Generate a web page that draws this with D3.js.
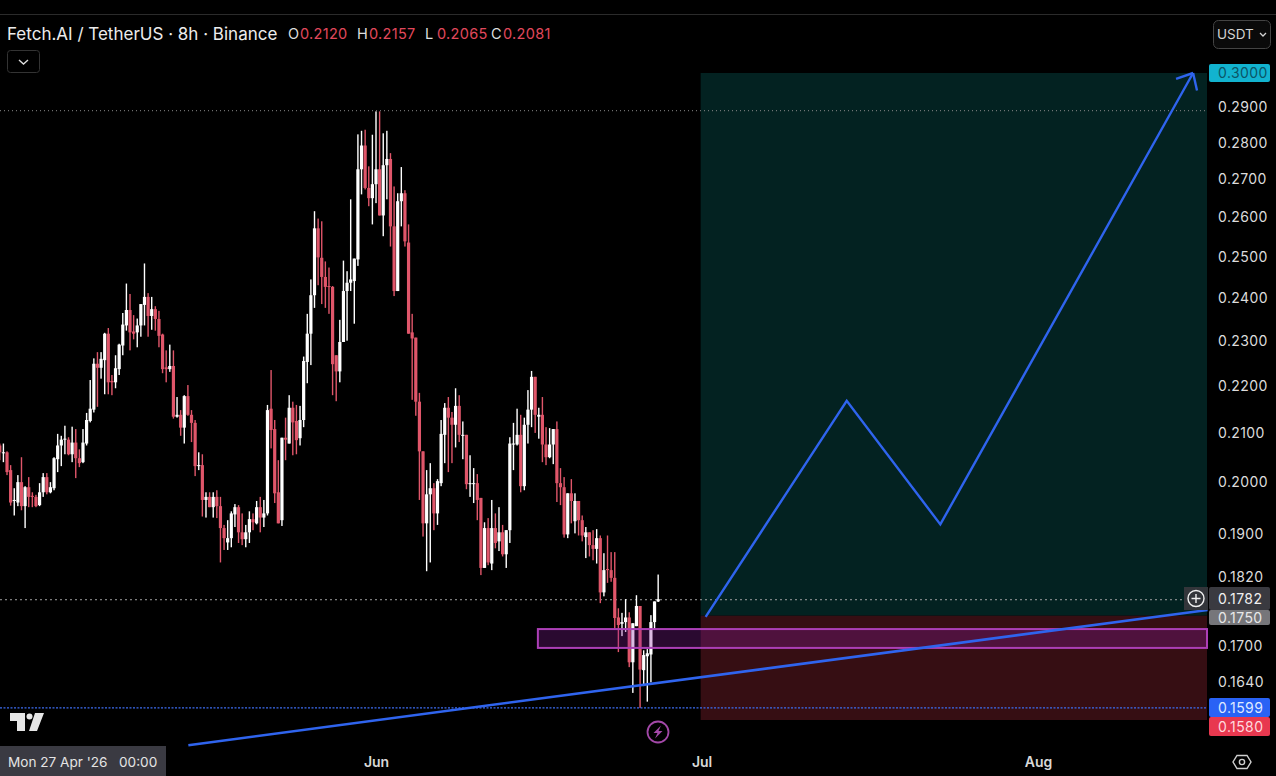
<!DOCTYPE html>
<html>
<head>
<meta charset="utf-8">
<script src="https://cdn.jsdelivr.net/npm/d3@7"></script>
<style>
  html, body { margin: 0; padding: 0; background: #000; overflow: hidden; }
  text { font-family: Inter, "Open Sans", sans-serif; }
</style>
</head>
<body>
<svg id="chart" width="1276" height="776"></svg>
<script>
// FET/USDT 8h candles
const opens = [.2074,.2058,.2060,.2024,.1963,.1960,.2000,.1953,.1990,.1973,.1971,.1955,.1980,.2010,.1980,.1988,.2046,.2074,.2086,.2086,.2056,.2080,.2048,.2040,.2078,.2125,.2149,.2249,.2240,.2257,.2317,.2211,.2208,.2237,.2290,.2336,.2372,.2322,.2320,.2336,.2384,.2403,.2358,.2374,.2351,.2315,.2241,.2237,.2244,.2134,.2138,.2111,.2178,.2138,.2121,.2032,.2034,.1965,.1971,.1951,.1971,.1953,.1911,.1884,.1892,.1937,.1951,.1903,.1890,.1903,.1928,.1920,.1951,.1931,.1939,.2151,.2108,.1980,.1926,.2090,.2078,.2153,.2125,.2089,.2127,.2253,.2317,.2407,.2572,.2498,.2451,.2429,.2427,.2268,.2232,.2298,.2417,.2437,.2441,.2494,.2727,.2792,.2677,.2650,.2687,.2727,.2605,.2738,.2755,.2577,.2417,.2642,.2663,.2536,.2320,.2308,.2166,.2062,.1920,.1976,.1988,.1939,.1998,.2096,.2153,.2132,.2117,.2157,.2094,.2096,.1996,.1996,.1998,.1969,.1837,.1911,.1845,.1911,.1886,.1903,.1862,.1907,.2076,.2076,.2096,.1992,.2117,.2149,.2220,.2134,.2138,.2076,.2050,.2076,.2108,.1998,.1990,.1899,.1978,.1924,.1963,.1926,.1894,.1903,.1879,.1872,.1892,.1793,.1835,.1833,.1819,.1749,.1738,.1741,.1749,.1673,.1734,.1769,.1660,.1683,.1686,.1741,.1777];
const highs = [.2078,.2078,.2062,.2034,.1988,.2014,.2050,.1992,.2010,.1980,.1975,.1998,.2018,.2018,.2000,.2050,.2098,.2094,.2115,.2091,.2113,.2108,.2066,.2108,.2142,.2213,.2261,.2275,.2275,.2319,.2330,.2224,.2268,.2294,.2365,.2435,.2410,.2360,.2352,.2386,.2484,.2412,.2403,.2381,.2370,.2317,.2279,.2292,.2279,.2176,.2148,.2180,.2202,.2148,.2127,.2060,.2056,.1980,.1980,.1980,.1984,.1971,.1917,.1926,.1943,.1957,.1955,.1939,.1917,.1943,.1939,.1963,.1971,.1965,.2159,.2235,.2127,.2044,.2090,.2132,.2180,.2166,.2159,.2157,.2265,.2363,.2445,.2616,.2597,.2590,.2489,.2474,.2429,.2268,.2349,.2491,.2465,.2647,.2496,.2823,.2833,.2836,.2735,.2822,.2888,.2888,.2826,.2833,.2771,.2681,.2663,.2733,.2671,.2582,.2363,.2308,.2185,.2062,.2024,.2038,.1998,.2006,.2127,.2163,.2176,.2144,.2195,.2180,.2124,.2096,.2054,.2028,.2016,.1969,.1922,.1930,.1965,.1939,.1951,.1917,.1907,.2091,.2121,.2151,.2138,.2132,.2191,.2233,.2220,.2153,.2176,.2112,.2110,.2108,.2124,.2028,.2010,.1978,.2006,.1978,.1963,.1935,.1913,.1903,.1907,.1909,.1897,.1864,.1897,.1866,.1866,.1765,.1757,.1781,.1758,.1739,.1788,.1769,.1693,.1695,.1753,.1777,.1825];
const lows = [.2044,.2040,.2014,.1954,.1935,.1953,.1945,.1911,.1951,.1951,.1951,.1953,.1971,.1976,.1978,.1984,.2020,.2032,.2056,.2054,.2040,.2008,.2030,.2038,.2074,.2122,.2143,.2155,.2216,.2182,.2182,.2180,.2195,.2224,.2268,.2324,.2279,.2304,.2286,.2310,.2336,.2310,.2326,.2324,.2286,.2228,.2208,.2231,.2130,.2132,.2094,.2078,.2136,.2081,.2012,.2024,.1933,.1931,.1951,.1931,.1930,.1847,.1870,.1870,.1875,.1913,.1883,.1879,.1875,.1883,.1907,.1918,.1903,.1913,.1935,.2068,.1959,.1920,.1915,.2044,.2078,.2054,.2056,.2074,.2112,.2206,.2246,.2377,.2431,.2386,.2377,.2363,.2180,.2167,.2208,.2298,.2301,.2417,.2340,.2478,.2660,.2673,.2629,.2582,.2637,.2605,.2552,.2647,.2526,.2405,.2417,.2577,.2526,.2317,.2170,.2136,.1965,.1895,.1831,.1847,.1907,.1917,.1992,.2038,.2020,.2038,.2070,.2081,.2046,.1986,.1971,.1959,.1926,.1824,.1837,.1842,.1833,.1873,.1868,.1858,.1837,.1883,.2024,.2074,.1980,.1984,.2078,.2112,.2100,.2088,.2040,.2034,.2048,.2036,.1961,.1955,.1893,.1892,.1920,.1901,.1897,.1886,.1855,.1858,.1851,.1845,.1774,.1786,.1810,.1812,.1730,.1690,.1717,.1724,.1665,.1623,.1734,.1599,.1634,.1609,.1640,.1729,.1776];
const closes = [.2060,.2060,.2020,.1960,.1965,.2000,.1953,.1990,.1971,.1971,.1953,.1980,.2010,.1980,.1990,.2048,.2074,.2086,.2088,.2056,.2080,.2048,.2038,.2080,.2127,.2151,.2249,.2240,.2260,.2317,.2208,.2208,.2239,.2292,.2338,.2372,.2320,.2317,.2336,.2386,.2403,.2358,.2374,.2351,.2312,.2237,.2237,.2244,.2134,.2138,.2111,.2178,.2138,.2121,.2032,.2034,.1965,.1971,.1951,.1971,.1953,.1911,.1892,.1892,.1939,.1951,.1903,.1890,.1903,.1928,.1922,.1951,.1931,.1939,.2148,.2106,.1978,.1920,.2090,.2086,.2153,.2122,.2085,.2127,.2255,.2317,.2407,.2572,.2499,.2451,.2427,.2427,.2248,.2232,.2298,.2417,.2437,.2445,.2496,.2727,.2792,.2677,.2650,.2687,.2727,.2605,.2738,.2755,.2577,.2417,.2642,.2663,.2539,.2317,.2306,.2166,.2062,.1920,.1976,.1988,.1939,.2002,.2098,.2153,.2132,.2117,.2157,.2096,.2096,.1996,.1998,.1998,.1965,.1837,.1911,.1847,.1911,.1883,.1903,.1862,.1907,.2078,.2078,.2096,.1992,.2117,.2149,.2220,.2138,.2138,.2076,.2050,.2076,.2108,.1998,.1990,.1899,.1978,.1963,.1963,.1926,.1897,.1903,.1879,.1872,.1892,.1793,.1833,.1833,.1819,.1748,.1736,.1741,.1749,.1673,.1739,.1769,.1661,.1685,.1688,.1741,.1777,.1781];

const priceTicks = [.29, .28, .27, .26, .25, .24, .23, .22, .21, .20, .19, .182, .17, .164];
const monthTicks = ["2026-06-01", "2026-07-01", "2026-08-01"];

// drawings on the chart
const profitZone = {from: "2026-06-30T22:00Z", top: .3000, bottom: .1752};
const lossZone = {from: "2026-06-30T22:00Z", top: .1752, bottom: .1580};
const demandZone = {from: "2026-06-15T22:00Z", top: .1729, bottom: .1697};
const pathDates = ["2026-07-01T09:00Z", "2026-07-14T09:00Z", "2026-07-23T00:00Z", "2026-08-15T07:00Z"];
const pathPrices = [.1750, .2168, .1918, .3000];
const trendDates = ["2026-05-14T17:00Z", "2026-08-16T15:00Z"];
const trendPrices = [.1541, .1762];
const dottedLevels = [{price: .2890, color: "#8a8a8a", dash: "1,3", end: 1207},
                      {price: .1780, color: "#a0a0a0", dash: "2,3", end: 1184}];
const lastPrice = .1599;

const legendItems = [["O", "0.2120", 288], ["H", "0.2157", 357], ["L", "0.2065", 425], ["C", "0.2081", 491]];
const priceTags = [
  {label: "0.3000", y0: 64, y1: 82, fill: "#12b3cf", text: "#0b5566"},
  {label: "0.1782", y0: 587, y1: 610, fill: "#3a3a40", text: "#f0f0f0"},
  {label: "0.1750", y0: 610, y1: 625, fill: "#76767a", text: "#e8e8e8"},
  {label: "0.1599", y0: 698, y1: 717, fill: "#2962f5", text: "#dfe8ff"},
  {label: "0.1580", y0: 717, y1: 736, fill: "#e8384f", text: "#ffd9de"}
];

const UP = "#ffffff", DOWN = "#e0566a", BLUE = "#2f64ee", PURPLE = "#ac3fb6";
const plotRight = 1207;

const svg = d3.select("#chart");

const parse = s => new Date(s);
const x = d3.scaleUtc().domain([parse("2026-06-01T00:00Z"), parse("2026-08-01T00:00Z")]).range([376, 1038]);
const y = d3.scaleLog().domain([.158, .30]).range([720, 73]);

const startDate = parse("2026-04-27T00:00Z");
const candles = opens.map((o, i) => ({
  time: d3.utcHour.offset(startDate, 8 * (i + 1)),
  o: o, h: highs[i], l: lows[i], c: closes[i]
}));

svg.append("rect").attr("width", 1276).attr("height", 776).attr("fill", "#000");
svg.append("line").attr("x1", 0).attr("x2", 1276).attr("y1", 14.5).attr("y2", 14.5).attr("stroke", "#2b2b2b");

// Profit and loss zones
svg.append("rect")
  .attr("x", x(parse(profitZone.from))).attr("y", y(profitZone.top))
  .attr("width", plotRight - x(parse(profitZone.from)))
  .attr("height", y(profitZone.bottom) - y(profitZone.top))
  .attr("fill", "#032221");
svg.append("rect")
  .attr("x", x(parse(lossZone.from))).attr("y", y(lossZone.top))
  .attr("width", plotRight - x(parse(lossZone.from)))
  .attr("height", y(lossZone.bottom) - y(lossZone.top))
  .attr("fill", "#360e13");

// Dotted levels
svg.selectAll("line.level").data(dottedLevels).enter().append("line")
  .attr("class", "level")
  .attr("x1", 0).attr("x2", d => d.end)
  .attr("y1", d => y(d.price)).attr("y2", d => y(d.price))
  .attr("stroke", d => d.color).attr("stroke-dasharray", d => d.dash);

// Candles
const candle = svg.append("g").selectAll("g").data(candles).enter().append("g")
  .attr("fill", d => d.c >= d.o ? UP : DOWN);
candle.append("rect")
  .attr("x", d => x(d.time) - 0.7).attr("width", 1.4)
  .attr("y", d => y(d.h)).attr("height", d => y(d.l) - y(d.h));
candle.append("rect")
  .attr("x", d => x(d.time) - 1.6).attr("width", 3.2)
  .attr("y", d => y(Math.max(d.o, d.c)))
  .attr("height", d => Math.max(1, y(Math.min(d.o, d.c)) - y(Math.max(d.o, d.c))));

// Demand box
svg.append("rect")
  .attr("x", x(parse(demandZone.from))).attr("y", y(demandZone.top))
  .attr("width", plotRight - x(parse(demandZone.from)))
  .attr("height", y(demandZone.bottom) - y(demandZone.top))
  .attr("fill", "#8a1fa0").attr("fill-opacity", 0.3)
  .attr("stroke", PURPLE).attr("stroke-width", 2);

// Last price line
svg.append("line").attr("x1", 0).attr("x2", plotRight)
  .attr("y1", y(lastPrice)).attr("y2", y(lastPrice))
  .attr("stroke", "#3d6cf0").attr("stroke-width", 1.2).attr("stroke-dasharray", "2,1.5");

// Trend line and projected path
const blueLine = d3.line().x(d => x(parse(d[0]))).y(d => y(d[1]));
svg.append("path").attr("d", blueLine(d3.zip(trendDates, trendPrices)))
  .attr("fill", "none").attr("stroke", BLUE).attr("stroke-width", 2.6);
svg.append("path").attr("d", blueLine(d3.zip(pathDates, pathPrices)))
  .attr("fill", "none").attr("stroke", BLUE).attr("stroke-width", 2.4);

// Arrow head, turned along the last leg of the path
const tipX = x(parse(pathDates[3])), tipY = y(pathPrices[3]);
const legAngle = Math.atan2(y(pathPrices[2]) - tipY, x(parse(pathDates[2])) - tipX);
[-0.73, 0.73].forEach(turn => {
  svg.append("line")
    .attr("x1", tipX).attr("y1", tipY)
    .attr("x2", tipX + 18 * Math.cos(legAngle + turn))
    .attr("y2", tipY + 18 * Math.sin(legAngle + turn))
    .attr("stroke", BLUE).attr("stroke-width", 2.4);
});

// Price axis
const yAxis = svg.append("g")
  .attr("transform", "translate(1208,0)")
  .call(d3.axisRight(y).tickValues(priceTicks).tickFormat(d3.format(".4f")).tickSize(0).tickPadding(10));
yAxis.select(".domain").remove();
yAxis.selectAll("text")
  .attr("fill", "#dcdcdc").style("font-size", "14px").style("letter-spacing", "0.4px")
  .style("font-family", "Inter, sans-serif");

// Price tags
const tag = svg.append("g").selectAll("g").data(priceTags).enter().append("g");
tag.append("rect")
  .attr("x", 1209).attr("width", 61)
  .attr("y", d => d.y0).attr("height", d => d.y1 - d.y0)
  .attr("rx", 2).attr("fill", d => d.fill);
tag.append("text")
  .attr("x", 1218).attr("y", d => (d.y0 + d.y1) / 2 + 5)
  .attr("fill", d => d.text).style("font-size", "14px").style("letter-spacing", "0.4px")
  .text(d => d.label);

// Time axis
const xAxis = svg.append("g")
  .attr("transform", "translate(0,751)")
  .call(d3.axisBottom(x).tickValues(monthTicks.map(parse))
    .tickFormat(d3.utcFormat("%b")).tickSize(0).tickPadding(6));
xAxis.select(".domain").remove();
xAxis.selectAll("text")
  .attr("fill", "#d8d8d8").style("font-size", "14px").style("font-weight", "600")
  .style("font-family", "Inter, sans-serif");

svg.append("rect").attr("x", 0).attr("y", 746).attr("width", 166).attr("height", 30).attr("fill", "#3a3a42");
svg.append("text").attr("x", 8).attr("y", 767).attr("fill", "#e4e4e4")
  .style("font-size", "13.6px").attr("xml:space", "preserve").text("Mon 27 Apr '26   00:00");

// Header
svg.append("text").attr("x", 7).attr("y", 40).attr("fill", "#ececec")
  .style("font-size", "17px").text("Fetch.AI / TetherUS · 8h · Binance");
legendItems.forEach(item => {
  svg.append("text").attr("x", item[2]).attr("y", 39).attr("fill", "#dedede")
    .style("font-size", "14.5px").text(item[0]);
  svg.append("text").attr("x", item[2] + 12).attr("y", 39).attr("fill", "#e0485c")
    .style("font-size", "14.5px").style("letter-spacing", "0.3px").text(item[1]);
});

// Collapse button
svg.append("rect").attr("x", 7.5).attr("y", 50.5).attr("width", 32).attr("height", 22).attr("rx", 3)
  .attr("fill", "none").attr("stroke", "#333");
svg.append("path").attr("d", "M19 60 L23.5 64 L28 60").attr("fill", "none").attr("stroke", "#ddd").attr("stroke-width", 1.4);

// Currency button
svg.append("rect").attr("x", 1213.5).attr("y", 20.5).attr("width", 57).attr("height", 28).attr("rx", 5)
  .attr("fill", "#0a0a0a").attr("stroke", "#444");
svg.append("text").attr("x", 1217).attr("y", 39).attr("fill", "#d4d4d4")
  .style("font-size", "13.5px").text("USDT");
svg.append("path").attr("d", "M1260 33 L1263 36 L1266 33").attr("fill", "none").attr("stroke", "#d4d4d4").attr("stroke-width", 1.3);

// Plus button beside the crosshair price
svg.append("rect").attr("x", 1184).attr("y", 587).attr("width", 24).attr("height", 23).attr("fill", "#33353a");
svg.append("circle").attr("cx", 1196).attr("cy", 598.5).attr("r", 8)
  .attr("fill", "none").attr("stroke", "#f0f0f0").attr("stroke-width", 1.4);
svg.append("path").attr("d", "M1191.5 598.5 H1200.5 M1196 594 V603").attr("stroke", "#f0f0f0").attr("stroke-width", 1.4);

// TradingView logo
svg.append("path").attr("fill", "#e6e6e6")
  .attr("d", "M10 713 H25 V731 H17 V721 H10 Z M35 713 H44 L37 731 H29 Z");
svg.append("circle").attr("cx", 29.5).attr("cy", 716.5).attr("r", 3).attr("fill", "#e6e6e6");

// Lightning badge
svg.append("circle").attr("cx", 658).attr("cy", 732).attr("r", 10.5)
  .attr("fill", "none").attr("stroke", "#a348a8").attr("stroke-width", 1.8);
svg.append("path").attr("fill", "#a348a8")
  .attr("d", "M661 725.5 L653.5 733 H657.5 L655 738.5 L662.5 731 H658.5 Z");

// Settings icon
svg.append("path").attr("fill", "none").attr("stroke", "#cfcfcf").attr("stroke-width", 1.4)
  .attr("d", "M1237 755.5 H1247 L1251 762 L1247 768.5 H1237 L1233 762 Z");
svg.append("circle").attr("cx", 1242).attr("cy", 762).attr("r", 2.6)
  .attr("fill", "none").attr("stroke", "#cfcfcf").attr("stroke-width", 1.4);
</script>
</body>
</html>
